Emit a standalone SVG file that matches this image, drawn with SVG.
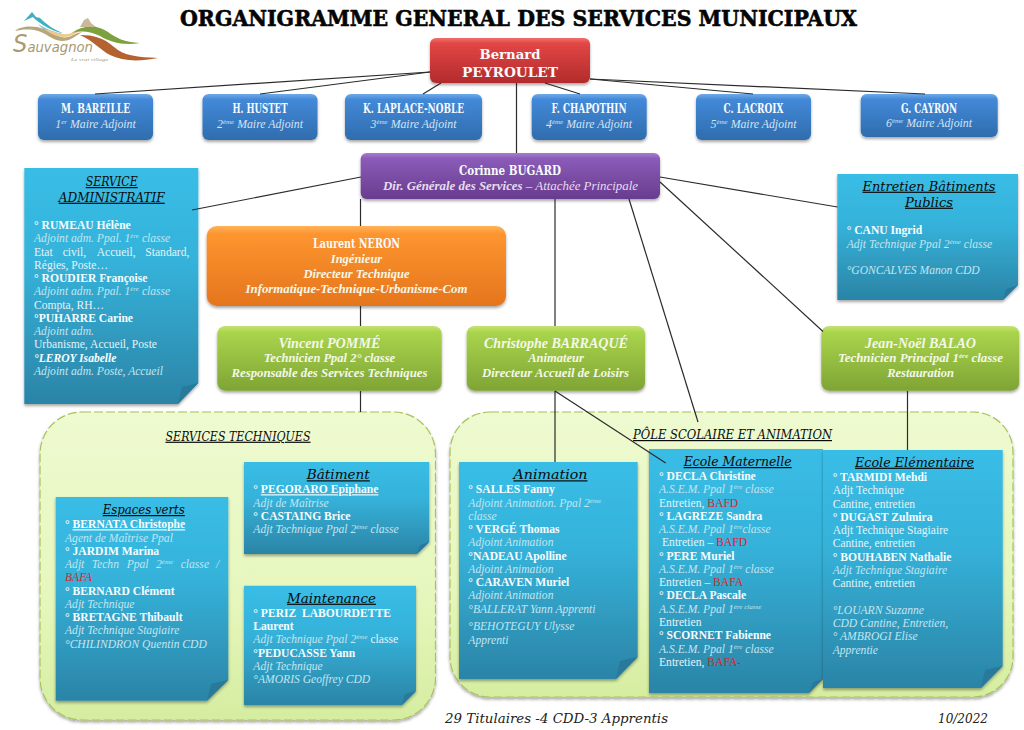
<svg xmlns="http://www.w3.org/2000/svg" width="1024" height="730" viewBox="0 0 1024 730">
<style>
text{font-family:"Liberation Serif","Times New Roman",serif}
.title{font-family:"DejaVu Serif",serif;font-weight:700;font-size:22px;fill:#050505;stroke:#050505;stroke-width:.6}
.nm{font-family:"DejaVu Serif",serif;font-weight:700;fill:#f6fafd;font-size:13px;text-anchor:middle}
.sub{font-style:italic;fill:#d4e3f4;font-size:11.800px;text-anchor:middle}
.gb{font-weight:700;font-style:italic;fill:#f3f8e8;font-size:12.500px;text-anchor:middle}
.gh{font-size:15px}
.hd{font-family:"DejaVu Serif",serif;font-style:italic;fill:#0a0a0a;font-size:12px;text-anchor:middle;text-decoration:underline}
.body{font-size:11.600px;fill:#e4f3f8}
.b{font-weight:700;fill:#f7fcfd;font-size:11.600px}
.i{font-style:italic;fill:#c3e5f0}
.red{fill:#e0202c}
.sup{font-size:7px;baseline-shift:4px}
.foot{font-family:"DejaVu Serif",serif;font-style:italic;fill:#222;font-size:13px}
.conn line{stroke:#2b2b2b;stroke-width:1.2}
.panel{stroke:#a9c25a;stroke-width:1.2;stroke-dasharray:9 3;fill:url(#gp);filter:url(#sh)}
.note{fill:url(#gn);filter:url(#sh)}
.fold{fill:#28799a}
</style>
<defs>
<filter id="sh" x="-10%" y="-10%" width="120%" height="125%"><feDropShadow dx="0" dy="2" stdDeviation="1.6" flood-color="#000" flood-opacity=".35"/></filter>
<linearGradient id="gp" x1="0" y1="0" x2="0" y2="1"><stop offset="0" stop-color="#eefad0"/><stop offset=".6" stop-color="#e6f7bd"/><stop offset="1" stop-color="#d5eda0"/></linearGradient>
<linearGradient id="gn" x1="0" y1="0" x2="0" y2="1"><stop offset="0" stop-color="#38bde6"/><stop offset=".4" stop-color="#35b2da"/><stop offset="1" stop-color="#2b84a6"/></linearGradient>
<linearGradient id="gr" x1="0" y1="0" x2="0" y2="1"><stop offset="0" stop-color="#f0716c"/><stop offset=".12" stop-color="#e24645"/><stop offset="1" stop-color="#b22b2c"/></linearGradient>
<linearGradient id="gb" x1="0" y1="0" x2="0" y2="1"><stop offset="0" stop-color="#6faae8"/><stop offset=".12" stop-color="#4389d8"/><stop offset="1" stop-color="#2f6cad"/></linearGradient>
<linearGradient id="gv" x1="0" y1="0" x2="0" y2="1"><stop offset="0" stop-color="#a97cd0"/><stop offset=".12" stop-color="#8a5bb8"/><stop offset="1" stop-color="#693c8e"/></linearGradient>
<linearGradient id="go" x1="0" y1="0" x2="0" y2="1"><stop offset="0" stop-color="#ffb35a"/><stop offset=".1" stop-color="#fd952f"/><stop offset="1" stop-color="#e5751d"/></linearGradient>
<linearGradient id="gg" x1="0" y1="0" x2="0" y2="1"><stop offset="0" stop-color="#c5e271"/><stop offset=".1" stop-color="#a9d44c"/><stop offset="1" stop-color="#7fa435"/></linearGradient>
</defs>
<rect width="1024" height="730" fill="#fff"/>

<g id="logo">
<path d="M24 21L32 12L36 17L40 18C46 24 54 30 63 33C54 32 44 26 36 20L33 17Z" fill="#3fb0c0"/>
<path d="M38 24C46 29 54 32 62 34C54 35 44 31 38 24Z" fill="#6cc4d4"/>
<path d="M15 31C20 26 34 25 44 29C54 33 60 39 68 37C72 36 76 33 82 32C76 36 70 41 62 41C52 41 46 32 34 30C26 29 20 30 15 31Z" fill="#b8a67c"/>
<path d="M44 29C54 31 60 35 68 34C74 33 78 28 86 29C78 31 72 37 64 37C56 37 50 33 44 29Z" fill="#f0c98c"/>
<path d="M72 33C84 24 98 25 108 32C116 38 124 42 140 43C124 46 110 42 100 36C92 32 82 30 72 33Z" fill="#7ba23f"/>
<path d="M80 35C94 35 104 38 114 47C124 56 138 57 158 58C138 62 122 61 110 55C100 50 94 41 80 35Z" fill="#b4622f"/>
<path d="M80 27L84 20L88 18L91 23L96 27Z" fill="#c9b998"/>
<text x="13" y="52" font-size="14" font-style="italic" fill="#a99a72" textLength="80" lengthAdjust="spacingAndGlyphs" style="font-family:'DejaVu Sans',sans-serif"><tspan font-size="24">S</tspan>auvagnon</text>
<text x="71" y="61" font-size="5" font-style="italic" fill="#a99a72" textLength="37" lengthAdjust="spacingAndGlyphs">Le vrai village</text>
</g>

<text id="title" class="title" x="180" y="26" textLength="677" lengthAdjust="spacingAndGlyphs">ORGANIGRAMME GENERAL DES SERVICES MUNICIPAUX</text>

<g id="panel-techniques">
<rect class="panel" x="40" y="412" width="395.500" height="308" rx="42"/>
<text class="hd" x="238" y="440.700" textLength="145" lengthAdjust="spacingAndGlyphs">SERVICES TECHNIQUES</text>
</g>
<g id="panel-pole">
<rect class="panel" x="450" y="412" width="563" height="285" rx="40"/>
<text class="hd" x="732.500" y="439" textLength="199" lengthAdjust="spacingAndGlyphs">PÔLE SCOLAIRE ET ANIMATION</text>
</g>

<g id="bernard">
<rect x="430" y="38" width="160" height="45" rx="6" fill="url(#gr)" filter="url(#sh)"/>
<text class="nm" x="510" y="59" textLength="61" lengthAdjust="spacingAndGlyphs">Bernard</text>
<text class="nm" x="510" y="77" textLength="96" lengthAdjust="spacingAndGlyphs">PEYROULET</text>
</g>

<g id="bareille">
<rect x="38" y="94" width="115" height="46" rx="6" fill="url(#gb)" filter="url(#sh)"/>
<text class="nm" x="95.500" y="113" textLength="69" lengthAdjust="spacingAndGlyphs">M. BAREILLE</text>
<text class="sub" x="95.500" y="127.500">1<tspan class="sup">er</tspan> Maire Adjoint</text>
</g>
<g id="hustet">
<rect x="202.500" y="94" width="115" height="46" rx="6" fill="url(#gb)" filter="url(#sh)"/>
<text class="nm" x="260" y="113" textLength="55" lengthAdjust="spacingAndGlyphs">H. HUSTET</text>
<text class="sub" x="260" y="127.500">2<tspan class="sup">ème</tspan> Maire Adjoint</text>
</g>
<g id="laplace">
<rect x="345" y="94" width="137" height="46" rx="6" fill="url(#gb)" filter="url(#sh)"/>
<text class="nm" x="413.500" y="113" textLength="101" lengthAdjust="spacingAndGlyphs">K. LAPLACE-NOBLE</text>
<text class="sub" x="413.500" y="127.500">3<tspan class="sup">ème</tspan> Maire Adjoint</text>
</g>
<g id="chapothin">
<rect x="531.700" y="94" width="115" height="46" rx="6" fill="url(#gb)" filter="url(#sh)"/>
<text class="nm" x="589" y="113" textLength="75" lengthAdjust="spacingAndGlyphs">F. CHAPOTHIN</text>
<text class="sub" x="589" y="127.500">4<tspan class="sup">ème</tspan> Maire Adjoint</text>
</g>
<g id="lacroix">
<rect x="696" y="94" width="115" height="46" rx="6" fill="url(#gb)" filter="url(#sh)"/>
<text class="nm" x="753.500" y="113" textLength="60" lengthAdjust="spacingAndGlyphs">C. LACROIX</text>
<text class="sub" x="753.500" y="127.500">5<tspan class="sup">ème</tspan> Maire Adjoint</text>
</g>
<g id="cayron">
<rect x="860.700" y="94" width="137" height="43" rx="6" fill="url(#gb)" filter="url(#sh)"/>
<text class="nm" x="929" y="113" textLength="56" lengthAdjust="spacingAndGlyphs">G. CAYRON</text>
<text class="sub" x="929" y="127">6<tspan class="sup">ème</tspan> Maire Adjoint</text>
</g>

<g id="bugard">
<rect x="360.700" y="153" width="299.300" height="46" rx="6" fill="url(#gv)" filter="url(#sh)"/>
<text class="nm" x="510" y="175" textLength="102" lengthAdjust="spacingAndGlyphs">Corinne BUGARD</text>
<text x="510.500" y="190" text-anchor="middle" font-size="12" font-style="italic" fill="#e6dcf0" textLength="255" lengthAdjust="spacingAndGlyphs"><tspan font-weight="700">Dir. Générale des Services</tspan> – Attachée Principale</text>
</g>

<g id="neron">
<rect x="206.700" y="226" width="299.300" height="80" rx="10" fill="url(#go)" filter="url(#sh)"/>
<text class="nm" x="356.500" y="248" textLength="87" lengthAdjust="spacingAndGlyphs">Laurent NERON</text>
<text class="gb" x="356.500" y="263">Ingénieur</text>
<text class="gb" x="356.500" y="278">Directeur Technique</text>
<text class="gb" x="356.500" y="293" textLength="222" lengthAdjust="spacingAndGlyphs">Informatique-Technique-Urbanisme-Com</text>
</g>

<g id="pomme">
<rect x="217.300" y="326" width="224.400" height="64.700" rx="8" fill="url(#gg)" filter="url(#sh)"/>
<text class="gb gh" x="329.500" y="347.700" textLength="102" lengthAdjust="spacingAndGlyphs">Vincent POMMÉ</text>
<text class="gb" x="329.500" y="362">Technicien Ppal 2° classe</text>
<text class="gb" x="329.500" y="376.700" textLength="196" lengthAdjust="spacingAndGlyphs">Responsable des Services Techniques</text>
</g>
<g id="barraque">
<rect x="466.700" y="326" width="178.300" height="64.700" rx="8" fill="url(#gg)" filter="url(#sh)"/>
<text class="gb gh" x="556" y="347.700" textLength="144" lengthAdjust="spacingAndGlyphs">Christophe BARRAQUÉ</text>
<text class="gb" x="556" y="362">Animateur</text>
<text class="gb" x="555.500" y="376.700" textLength="147" lengthAdjust="spacingAndGlyphs">Directeur Accueil de Loisirs</text>
</g>
<g id="balao">
<rect x="821.300" y="326" width="198" height="64.700" rx="8" fill="url(#gg)" filter="url(#sh)"/>
<text class="gb gh" x="920.500" y="347.700" textLength="111" lengthAdjust="spacingAndGlyphs">Jean-Noël BALAO</text>
<text class="gb" x="920.500" y="362" textLength="165" lengthAdjust="spacingAndGlyphs">Technicien Principal 1<tspan class="sup">ère</tspan> classe</text>
<text class="gb" x="920.500" y="376.700">Restauration</text>
</g>

<g id="service-administratif">
<path class="note" d="M24.300 168H198.300V383L178 404H24.300Z"/><path class="fold" d="M198.300 383L178 404L182 387Z"/>
<text class="hd" x="111.700" y="186" textLength="52" lengthAdjust="spacingAndGlyphs">SERVICE</text>
<text class="hd" x="111.700" y="201.700" textLength="106" lengthAdjust="spacingAndGlyphs">ADMINISTRATIF</text>
<text class="body" y="229">
<tspan x="34" class="b">° RUMEAU Hélène</tspan>
<tspan x="34" dy="13.270" class="i">Adjoint adm. Ppal. 1<tspan class="sup">ère</tspan> classe</tspan>
<tspan x="34" dy="13.270">Etat</tspan><tspan x="62.700">civil,</tspan><tspan x="96.700">Accueil,</tspan><tspan x="145.300">Standard,</tspan>
<tspan x="34" dy="13.270">Régies, Poste…</tspan>
<tspan x="34" dy="13.270" class="b">° ROUDIER Françoise</tspan>
<tspan x="34" dy="13.270" class="i">Adjoint adm. Ppal. 1<tspan class="sup">ère</tspan> classe</tspan>
<tspan x="34" dy="13.270">Compta, RH…</tspan>
<tspan x="34" dy="13.270" class="b">°PUHARRE Carine</tspan>
<tspan x="34" dy="13.270" class="i">Adjoint adm.</tspan>
<tspan x="34" dy="13.270">Urbanisme, Accueil, Poste</tspan>
<tspan x="34" dy="13.270" class="b i" style="fill:#f7fcfd">°LEROY Isabelle</tspan>
<tspan x="34" dy="13.270" class="i">Adjoint adm. Poste, Accueil</tspan>
</text>
</g>

<g id="entretien-batiments">
<path class="note" d="M837.300 174H1018V285L1003 300H837.300Z"/><path class="fold" d="M1018 285L1003 300L1006 289Z"/>
<text class="hd" x="929" y="190.700" textLength="133" lengthAdjust="spacingAndGlyphs">Entretien Bâtiments</text>
<text class="hd" x="929" y="206.700" textLength="48" lengthAdjust="spacingAndGlyphs">Publics</text>
<text class="body" y="234.300">
<tspan x="846.700" class="b">° CANU Ingrid</tspan>
<tspan x="846.700" dy="13.600" class="i">Adjt Technique Ppal 2<tspan class="sup">ème</tspan> classe</tspan>
<tspan x="846.700" dy="26.400" class="i">°GONCALVES Manon CDD</tspan>
</text>
</g>

<g id="espaces-verts">
<path class="note" d="M55.700 497H228.300V680L207 700.700H55.700Z"/><path class="fold" d="M228.300 680L207 700.700L211 684Z"/>
<text class="hd" x="143.800" y="514" textLength="82" lengthAdjust="spacingAndGlyphs">Espaces verts</text>
<text class="body" y="528.300">
<tspan x="65" class="b">° <tspan text-decoration="underline">BERNATA Christophe</tspan></tspan>
<tspan x="65" dy="13.270" class="i">Agent de Maîtrise Ppal</tspan>
<tspan x="65" dy="13.270" class="b">° JARDIM Marina</tspan>
<tspan x="65" dy="13.270" class="i">Adjt</tspan><tspan x="91.700" class="i">Techn</tspan><tspan x="126.700" class="i">Ppal</tspan><tspan x="156" class="i">2<tspan class="sup">ème</tspan></tspan><tspan x="180.700" class="i">classe</tspan><tspan x="216" class="i">/</tspan>
<tspan x="65" dy="13.270" class="i red" style="fill:#e0202c">BAFA</tspan>
<tspan x="65" dy="13.270" class="b">° BERNARD Clément</tspan>
<tspan x="65" dy="13.270" class="i">Adjt Technique</tspan>
<tspan x="65" dy="13.270" class="b">° BRETAGNE Thibault</tspan>
<tspan x="65" dy="13.270" class="i">Adjt Technique Stagiaire</tspan>
<tspan x="65" dy="13.270" class="i">°CHILINDRON Quentin CDD</tspan>
</text>
</g>

<g id="batiment">
<path class="note" d="M244 462H429.300V542L417 554H244Z"/><path class="fold" d="M429.300 542L417 554L420 545Z"/>
<text class="hd" x="338.300" y="479.300" textLength="63" lengthAdjust="spacingAndGlyphs">Bâtiment</text>
<text class="body" y="493.300">
<tspan x="253.300" class="b">° <tspan text-decoration="underline">PEGORARO Epiphane</tspan></tspan>
<tspan x="253.300" dy="13.270" class="i">Adjt de Maîtrise</tspan>
<tspan x="253.300" dy="13.270" class="b">° CASTAING Brice</tspan>
<tspan x="253.300" dy="13.270" class="i">Adjt Technique Ppal 2<tspan class="sup">ème</tspan> classe</tspan>
</text>
</g>

<g id="maintenance">
<path class="note" d="M244 585.700H416V691L402 705H244Z"/><path class="fold" d="M416 691L402 705L405 694Z"/>
<text class="hd" x="331.500" y="602.700" textLength="89" lengthAdjust="spacingAndGlyphs">Maintenance</text>
<text class="body" y="616.700">
<tspan x="253.300" class="b">° PERIZ</tspan><tspan x="302" class="b">LABOURDETTE</tspan>
<tspan x="253.300" dy="13.270" class="b">Laurent</tspan>
<tspan x="253.300" dy="13.270" class="i">Adjt Technique Ppal 2<tspan class="sup">ème</tspan></tspan><tspan> classe</tspan>
<tspan x="253.300" dy="13.270" class="b">°PEDUCASSE Yann</tspan>
<tspan x="253.300" dy="13.270" class="i">Adjt Technique</tspan>
<tspan x="253.300" dy="13.270" class="i">°AMORIS Geoffrey CDD</tspan>
</text>
</g>

<g id="animation">
<path class="note" d="M459 462H637.700V657L616 679H459Z"/><path class="fold" d="M637.700 657L616 679L620 661Z"/>
<text class="hd" x="550.500" y="479.300" textLength="74" lengthAdjust="spacingAndGlyphs">Animation</text>
<text class="body" y="493.300">
<tspan x="468.300" class="b">° SALLES Fanny</tspan>
<tspan x="468.300" dy="13.270" class="i">Adjoint Animation. Ppal 2<tspan class="sup">ème</tspan></tspan>
<tspan x="468.300" dy="13.270" class="i">classe</tspan>
<tspan x="468.300" dy="13.270" class="b">° VERGÉ Thomas</tspan>
<tspan x="468.300" dy="13.270" class="i">Adjoint Animation</tspan>
<tspan x="468.300" dy="13.270" class="b">°NADEAU Apolline</tspan>
<tspan x="468.300" dy="13.270" class="i">Adjoint Animation</tspan>
<tspan x="468.300" dy="13.270" class="b">° CARAVEN Muriel</tspan>
<tspan x="468.300" dy="13.270" class="i">Adjoint Animation</tspan>
<tspan x="468.300" dy="13.270" class="i">°BALLERAT Yann Apprenti</tspan>
<tspan x="468.300" dy="17" class="i">°BEHOTEGUY Ulysse</tspan>
<tspan x="468.300" dy="14" class="i">Apprenti</tspan>
</text>
</g>

<g id="ecole-maternelle">
<path class="note" d="M649 449H823V679L809 693H649Z"/><path class="fold" d="M823 679L809 693L813 682Z"/>
<text class="hd" x="737.700" y="466" textLength="108" lengthAdjust="spacingAndGlyphs">Ecole Maternelle</text>
<text class="body" y="480">
<tspan x="659" class="b">° DECLA Christine</tspan>
<tspan x="659" dy="13.270" class="i">A.S.E.M. Ppal 1<tspan class="sup">ère</tspan> classe</tspan>
<tspan x="659" dy="13.270">Entretien, <tspan class="red">BAFD</tspan></tspan>
<tspan x="659" dy="13.270" class="b">° LAGREZE Sandra</tspan>
<tspan x="659" dy="13.270" class="i">A.S.E.M. Ppal 1<tspan class="sup">ère</tspan>classe</tspan>
<tspan x="662" dy="13.270">Entretien – <tspan class="red">BAFD</tspan></tspan>
<tspan x="659" dy="13.270" class="b">° PERE Muriel</tspan>
<tspan x="659" dy="13.270" class="i">A.S.E.M. Ppal 1<tspan class="sup">ère</tspan> classe</tspan>
<tspan x="659" dy="13.270">Entretien – <tspan class="red">BAFA</tspan></tspan>
<tspan x="659" dy="13.270" class="b">° DECLA Pascale</tspan>
<tspan x="659" dy="13.270" class="i">A.S.E.M. Ppal 1<tspan class="sup">ère classe</tspan></tspan>
<tspan x="659" dy="13.270">Entretien</tspan>
<tspan x="659" dy="13.270" class="b">° SCORNET Fabienne</tspan>
<tspan x="659" dy="13.270" class="i">A.S.E.M. Ppal 1<tspan class="sup">ère</tspan> classe</tspan>
<tspan x="659" dy="13.270">Entretien, <tspan class="red">BAFA-</tspan></tspan>
</text>
</g>

<g id="ecole-elementaire">
<path class="note" d="M823 450H1002.700V666L981 688H823Z"/><path class="fold" d="M1002.700 666L981 688L985 670Z"/>
<text class="hd" x="914.500" y="466.700" textLength="119" lengthAdjust="spacingAndGlyphs">Ecole Elémentaire</text>
<text class="body" y="481">
<tspan x="832.700" class="b">° TARMIDI Mehdi</tspan>
<tspan x="832.700" dy="13.270">Adjt Technique</tspan>
<tspan x="832.700" dy="13.270">Cantine, entretien</tspan>
<tspan x="832.700" dy="13.270" class="b">° DUGAST Zulmira</tspan>
<tspan x="832.700" dy="13.270">Adjt Technique Stagiaire</tspan>
<tspan x="832.700" dy="13.270">Cantine, entretien</tspan>
<tspan x="832.700" dy="13.270" class="b">° BOUHABEN Nathalie</tspan>
<tspan x="832.700" dy="13.270" class="i">Adjt Technique Stagiaire</tspan>
<tspan x="832.700" dy="13.270">Cantine, entretien</tspan>
<tspan x="832.700" dy="26.540" class="i">°LOUARN Suzanne</tspan>
<tspan x="832.700" dy="13.270" class="i">CDD Cantine, Entretien,</tspan>
<tspan x="832.700" dy="13.270" class="i">° AMBROGI Elise</tspan>
<tspan x="832.700" dy="13.270" class="i">Apprentie</tspan>
</text>
</g>

<g id="connectors" class="conn">
<line x1="430" y1="72" x2="95" y2="94"/>
<line x1="430" y1="72" x2="260" y2="94"/>
<line x1="441" y1="83" x2="423" y2="94"/>
<line x1="516.500" y1="83" x2="516.500" y2="153"/>
<line x1="545" y1="83" x2="580" y2="94"/>
<line x1="590" y1="79" x2="753" y2="94"/>
<line x1="590" y1="79" x2="925" y2="94"/>
<line x1="361" y1="177" x2="192" y2="210"/>
<line x1="360.500" y1="199" x2="360.500" y2="226"/>
<line x1="360.500" y1="306" x2="360.500" y2="326"/>
<line x1="360.500" y1="391" x2="360.500" y2="412"/>
<line x1="555" y1="199" x2="555" y2="326"/>
<line x1="555" y1="391" x2="555" y2="462"/>
<line x1="555" y1="391" x2="665.700" y2="463"/>
<line x1="629" y1="199" x2="698" y2="422"/>
<line x1="660" y1="177" x2="837.500" y2="207"/>
<line x1="660" y1="182" x2="823" y2="331.500"/>
<line x1="907.500" y1="391" x2="907.500" y2="450"/>
</g>

<text id="footer-left" class="foot" x="445" y="723" textLength="223" lengthAdjust="spacingAndGlyphs">29 Titulaires -4 CDD-3 Apprentis</text>
<text id="footer-right" class="foot" x="938" y="723" textLength="50" lengthAdjust="spacingAndGlyphs">10/2022</text>
</svg>
